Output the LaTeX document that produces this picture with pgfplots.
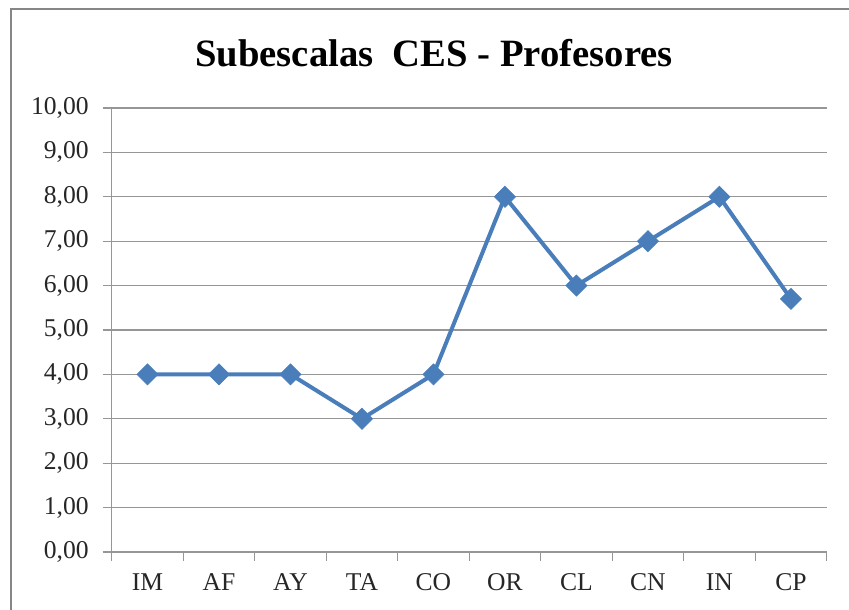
\documentclass[border=0pt]{standalone}
\usepackage{fontspec}
\setmainfont{Liberation Serif}
\usepackage{pgfplots}
\pgfplotsset{compat=1.18}
\definecolor{serie}{RGB}{74,126,187}
\definecolor{rejilla}{RGB}{150,150,150}
\definecolor{marco}{RGB}{134,134,134}

\begin{document}
\begin{tikzpicture}
% page = 849x610 px, 1 px = 0.75pt, axis origin at (111.7px, 552px)
\useasboundingbox (-83.8pt,-43.5pt) rectangle (553pt,414pt);
\draw[marco, line width=1.5pt] (-75.5pt,-60pt) -- (-75.5pt,407.25pt) -- (570pt,407.25pt);
\node[font=\fontsize{29}{34}\selectfont\bfseries] at (241.7pt,374pt) {Subescalas\ \ CES - Profesores};

\begin{axis}[
    at={(0,0)}, anchor=origin,
    scale only axis,
    width=536.25pt, height=333pt,
    xmin=0, xmax=10,
    ymin=0, ymax=10,
    axis lines=left,
    axis line style={-, rejilla, line width=0.9pt},
    ytick={0,1,...,10},
    ymajorgrids,
    grid style={rejilla, line width=0.9pt},
    tick align=outside,
    major tick length=6.75pt,
    minor tick length=6.75pt,
    ytick pos=left,
    y tick style={rejilla, line width=0.9pt},
    xtick={0.5,1.5,...,9.5},
    xticklabels={IM,AF,AY,TA,CO,OR,CL,CN,IN,CP},
    major x tick style={draw=none},
    minor xtick={0,1,...,10},
    minor x tick style={rejilla, line width=0.9pt},
    ticklabel style={font=\fontsize{19.2}{22}\selectfont, text=black!85},
    yticklabel style={xshift=-7pt, /pgf/number format/.cd, fixed, fixed zerofill, precision=2, use comma, assume math mode=true},
    xticklabel style={yshift=-6pt},
    clip=false,
]
\addplot[serie, line width=3pt, mark=square*, mark size=5.6pt,
    mark options={rotate=45, line width=0.5pt, fill=serie, draw=serie}]
    coordinates {
    (0.5,4)(1.5,4)(2.5,4)(3.5,3)(4.5,4)(5.5,8)(6.5,6)(7.5,7)(8.5,8)(9.5,5.7)
    };
\end{axis}
\end{tikzpicture}
\end{document}
